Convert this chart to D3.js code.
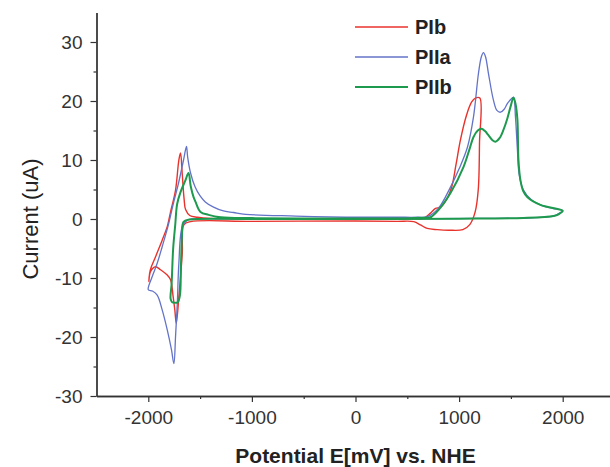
<!DOCTYPE html>
<html>
<head>
<meta charset="utf-8">
<script src="https://cdn.jsdelivr.net/npm/d3@7"></script>
<style>
  body { margin: 0; background: #fff; }
  text { font-family: Arial, "Liberation Sans", sans-serif; }
</style>
</head>
<body>
<div id="chart"></div>
<script>
// potential (mV) / current (uA) pairs, traced along each CV cycle
var seriesNames = ['PIb', 'PIIa', 'PIIb'];

var pIb = [
  [0, 0.0], [300, 0.0], [550, 0.05], [657, 0.1], [724, 1.0], [772, 1.8], [820, 2.0], [885, 3.5],
  [930, 5.5], [970, 9.2], [1013, 13.4], [1070, 17.5], [1120, 19.8], [1158, 20.5], [1200, 20.5],
  [1197, 13], [1185, 5], [1155, 1.2], [1105, -0.9], [1036, -1.8], [900, -1.9], [789, -1.8],
  [692, -1.6], [627, -1.0], [563, -0.45], [400, -0.4], [0, -0.35], [-1000, -0.4], [-1592, -0.45],
  [-1657, -1.0], [-1672, -5.8], [-1705, -13.2], [-1730, -17.7], [-1744, -15.4], [-1760, -13.2],
  [-1785, -10.3], [-1817, -9.5], [-1882, -8.6], [-1930, -8.1], [-1978, -8.9], [-1995, -10.6],
  [-1980, -8.6], [-1930, -6.4], [-1866, -3.6], [-1817, -1.3], [-1802, -0.2], [-1785, 1.2],
  [-1737, 4.9], [-1705, 10], [-1689, 11.2], [-1672, 7.5], [-1655, 3.5], [-1640, 1.6],
  [-1600, 0.6], [-1525, 0.3], [-1400, 0.1], [-1000, 0.0], [0, 0.0]
];

var pIIa = [
  [0, 0.3], [400, 0.3], [600, 0.3], [695, 0.4], [800, 1.8], [917, 5.4], [1000, 8.5], [1081, 12.2],
  [1139, 17.3], [1187, 24.7], [1215, 27.5], [1235, 28.2], [1255, 27.5], [1283, 24.7], [1332, 20.1],
  [1365, 18.4], [1400, 18.1], [1435, 18.6], [1467, 19.6], [1500, 20.3], [1525, 20.6], [1544, 17.3],
  [1563, 11.7], [1580, 7.5], [1621, 4.9], [1700, 3.2], [1785, 2.4], [1900, 1.8], [2000, 1.4],
  [1950, 0.8], [1911, 0.5], [1700, 0.2], [1200, 0.1], [600, 0.05], [0, 0.0], [-1000, 0.0],
  [-1580, 0.0], [-1624, -0.2], [-1672, -1.3], [-1705, -7.5], [-1720, -14.3], [-1737, -19.9],
  [-1753, -24.5], [-1776, -22.2], [-1817, -18.8], [-1866, -15.4], [-1914, -12.9], [-1960, -12.2],
  [-2000, -12.0], [-1963, -9.8], [-1914, -7.5], [-1866, -4.7], [-1802, -0.7], [-1760, 2.5],
  [-1708, 6.1], [-1660, 10], [-1641, 11.7], [-1631, 12.3], [-1620, 10.5], [-1592, 7.8],
  [-1550, 5.5], [-1500, 3.9], [-1450, 2.9], [-1370, 2.0], [-1283, 1.4], [-1177, 1.1],
  [-1061, 0.8], [-579, 0.5], [-96, 0.3], [0, 0.3]
];

var pIIb = [
  [0, 0.1], [500, 0.1], [650, 0.2], [724, 0.3], [800, 1.5], [917, 4.4], [1042, 8.8], [1100, 11.8],
  [1139, 13.9], [1180, 15.0], [1216, 15.3], [1250, 14.9], [1283, 14.2], [1320, 13.4], [1351, 13.1],
  [1390, 13.7], [1428, 15.1], [1465, 17.0], [1496, 19.0], [1525, 20.6], [1545, 19.5], [1563, 16.8],
  [1573, 10], [1592, 6.6], [1620, 4.7], [1660, 3.7], [1785, 2.4], [1950, 1.7], [2000, 1.4],
  [1960, 0.8], [1911, 0.5], [1621, 0.17], [1000, 0.05], [0, 0.0], [-1000, 0.0], [-1600, -0.1],
  [-1660, -0.5], [-1675, -3], [-1685, -8], [-1695, -13], [-1715, -14.1], [-1740, -14.2],
  [-1770, -14.1], [-1785, -13.5], [-1775, -11], [-1760, -5], [-1740, -1], [-1722, 2.5],
  [-1690, 4.5], [-1641, 6.6], [-1612, 7.8], [-1590, 5.5], [-1563, 3.7], [-1544, 2.9],
  [-1496, 1.2], [-1418, 0.7], [-1300, 0.3], [-1000, 0.15], [0, 0.1]
];

var xMajor = [-2000, -1000, 0, 1000, 2000];
var xMinor = [-1500, -500, 500, 1500];
var yMajor = [-30, -20, -10, 0, 10, 20, 30];
var yMinor = [-25, -15, -5, 5, 15, 25];

var dim = {
  'width': 610,
  'height': 467
};

var colors = {'PIb': '#e8322c', 'PIIa': '#6373c8', 'PIIb': '#1e9a4e'};
var widths = {'PIb': 1.4, 'PIIa': 1.3, 'PIIb': 2};
var allData = {'PIb': pIb, 'PIIa': pIIa, 'PIIb': pIIb};

var svg = d3.select('#chart').append('svg')
  .attr('width', dim.width)
  .attr('height', dim.height);

var xScale = d3.scaleLinear()
  .domain([-2500, 2500])
  .range([96.5, 614.5]);

var yScale = d3.scaleLinear()
  .domain([-30, 35])
  .range([396, 12.5]);

var line = d3.line()
  .x(d => xScale(d[0]))
  .y(d => yScale(d[1]))
  .curve(d3.curveCatmullRom.alpha(0.5));

// axes (plain hyphen for negatives, like the original)
var plain = d => String(d);
var xAxis = d3.axisBottom(xScale).tickValues(xMajor).tickSize(6).tickPadding(9).tickSizeOuter(0).tickFormat(plain);
var xAxisMinor = d3.axisBottom(xScale).tickValues(xMinor).tickSize(3).tickSizeOuter(0).tickFormat('');
var yAxis = d3.axisLeft(yScale).tickValues(yMajor).tickSize(6).tickPadding(8).tickSizeOuter(0).tickFormat(plain);
var yAxisMinor = d3.axisLeft(yScale).tickValues(yMinor).tickSize(3).tickSizeOuter(0).tickFormat('');

var gx = svg.append('g').attr('transform', `translate(0,${yScale(-30)})`);
gx.call(xAxis);
gx.append('g').call(xAxisMinor);
var gy = svg.append('g').attr('transform', `translate(${xScale(-2500)},0)`);
gy.call(yAxis);
gy.append('g').call(yAxisMinor);

svg.selectAll('.domain').attr('stroke', '#333').attr('stroke-width', 1.3);
svg.selectAll('.tick line').attr('stroke', '#333').attr('stroke-width', 1.2);
svg.selectAll('.tick text')
  .attr('fill', '#333')
  .style('font-size', '19px')
  .style('font-family', 'Arial, "Liberation Sans", sans-serif');

// curves
seriesNames.forEach(function(name) {
  svg.append('path')
    .datum(allData[name])
    .attr('d', line)
    .attr('fill', 'none')
    .attr('stroke', colors[name])
    .attr('stroke-width', widths[name])
    .attr('stroke-linejoin', 'round');
});

// axis titles
svg.append('text')
  .attr('x', xScale(0))
  .attr('y', 463)
  .attr('text-anchor', 'middle')
  .attr('fill', '#222')
  .style('font-size', '21px')
  .style('font-weight', 'bold')
  .text('Potential E[mV] vs. NHE');

svg.append('text')
  .attr('transform', `translate(38,${yScale(0)}) rotate(-90)`)
  .attr('text-anchor', 'middle')
  .attr('fill', '#222')
  .style('font-size', '22px')
  .text('Current (uA)');

// legend
var legend = svg.append('g');
seriesNames.forEach(function(name, i) {
  var ly = 27 + i * 30;
  legend.append('line')
    .attr('x1', 355).attr('x2', 408)
    .attr('y1', ly).attr('y2', ly)
    .attr('stroke', colors[name])
    .attr('stroke-width', widths[name]);
  legend.append('text')
    .attr('x', 415)
    .attr('y', ly + 7)
    .attr('fill', '#222')
    .style('font-size', '20px')
    .style('font-weight', 'bold')
    .text(name);
});
</script>
</body>
</html>
